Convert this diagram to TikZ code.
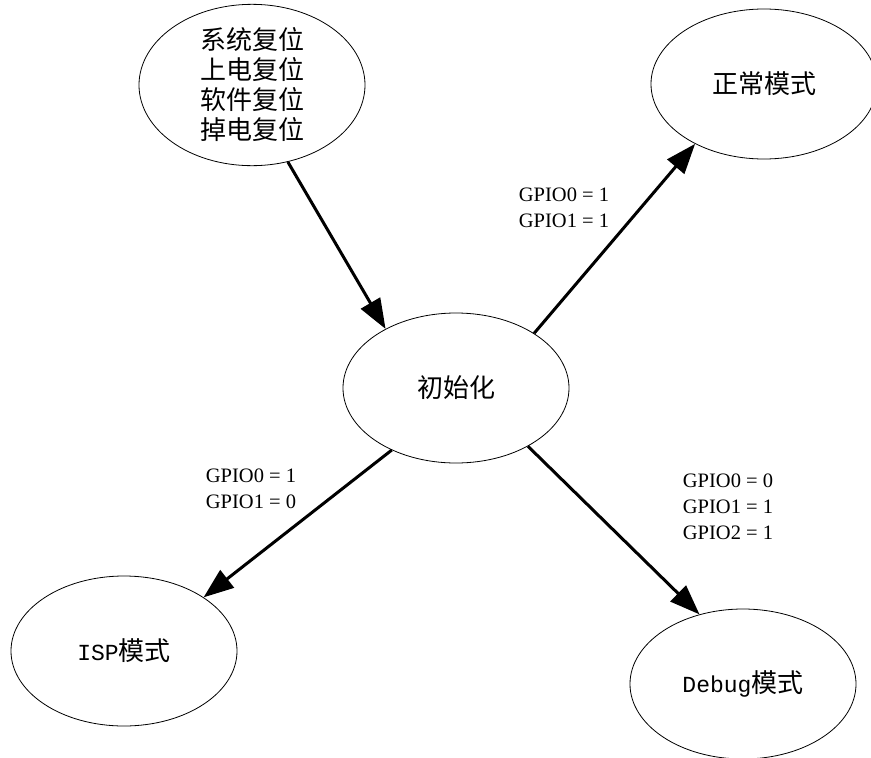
\documentclass[tikz,border=0pt]{standalone}
\usepackage{fontspec}
\setmainfont{Liberation Serif}
\newfontfamily\cjk{Noto Sans CJK SC}
\newfontfamily\latmono{Liberation Mono}
\usetikzlibrary{arrows.meta, shapes.geometric}

\begin{document}
\begin{tikzpicture}[x=1pt, y=-1pt,
	state/.style={ellipse, draw, line width=0.8pt, minimum width=226pt, minimum height=150pt, inner sep=0pt, align=center, font=\cjk\fontsize{26}{30}\selectfont},
	trans/.style={line width=3pt, -{Triangle[length=30pt, width=22pt]}},
	cond/.style={align=center, font=\fontsize{20.5}{26}\selectfont}]
	\useasboundingbox (0,0) rectangle (871,758);
	\node [state] (R) at (252,85) {系统复位\\上电复位\\软件复位\\掉电复位};
	\node [state] (I) at (456,388) {初始化};
	\node [state] (N) at (764,84) {正常模式};
	\node [state] (S) at (124,651) {{\latmono\fontsize{23}{30}\selectfont ISP}模式};
	\node [state] (D) at (743,684) {{\latmono\fontsize{23}{30}\selectfont Debug}模式};
	\draw [trans] (R.-65) -- (I.140);
	\draw [trans] (I.35) -- (N.221);
	\draw [trans] (I.224) -- (S.34);
	\draw [trans] (I.-39) -- (D.122);
	\path (564,208) node [cond] {GPIO0 = 1\\GPIO1 = 1};
	\path (251,489) node [cond] {GPIO0 = 1\\GPIO1 = 0};
	\path (728,507) node [cond] {GPIO0 = 0\\GPIO1 = 1\\GPIO2 = 1};
\end{tikzpicture}
\end{document}
